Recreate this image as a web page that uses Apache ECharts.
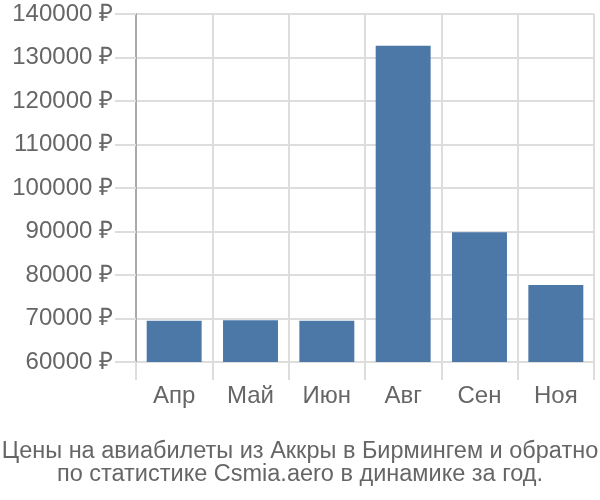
<!DOCTYPE html>
<html>
<head>
<meta charset="utf-8">
<script src="https://cdn.jsdelivr.net/npm/echarts@6/dist/echarts.min.js"></script>
<style>html,body{margin:0;padding:0;background:#fff}#c{width:600px;height:500px}</style>
</head>
<body>
<div id="c"></div>
<script>
const categories = ['Апр', 'Май', 'Июн', 'Авг', 'Сен', 'Ноя'];
const prices = [69500, 69600, 69500, 132700, 89800, 77700];
const titleLines = ['Цены на авиабилеты из Аккры в Бирмингем и обратно', 'по статистике Csmia.aero в динамике за год.'];

const chart = echarts.init(document.getElementById('c'));
chart.setOption({
  animation: false,
  title: {
    text: titleLines.join('\n'),
    left: 'center',
    top: 435,
    textStyle: { fontFamily: 'Liberation Sans', fontSize: 23.5, fontWeight: 'normal', color: '#666', lineHeight: 23 }
  },
  grid: { left: 136, right: 6, top: 14, bottom: 138, containLabel: false },
  xAxis: {
    type: 'category',
    data: categories,
    axisLine: { show: false },
    axisTick: { show: true, length: 18, alignWithLabel: false, interval: 0, lineStyle: { color: '#ddd', width: 2 } },
    splitLine: { show: true, interval: 0, lineStyle: { color: '#ddd', width: 2 } },
    axisLabel: { margin: 22, fontFamily: 'Liberation Sans', fontSize: 24, color: '#666', interval: 0 }
  },
  yAxis: {
    type: 'value',
    min: 60000,
    max: 140000,
    interval: 10000,
    axisLine: { show: true, lineStyle: { color: '#aaa', width: 2 } },
    axisTick: { show: true, length: 21, lineStyle: { color: '#ddd', width: 2 } },
    splitLine: { show: true, lineStyle: { color: '#ddd', width: 2 } },
    axisLabel: { margin: 23, fontFamily: 'Liberation Sans', fontSize: 24, color: '#666', formatter: v => v + ' ₽' }
  },
  series: [{
    type: 'bar',
    data: prices,
    barWidth: '72%',
    itemStyle: { color: '#4c78a8' }
  }]
});
</script>
</body>
</html>
